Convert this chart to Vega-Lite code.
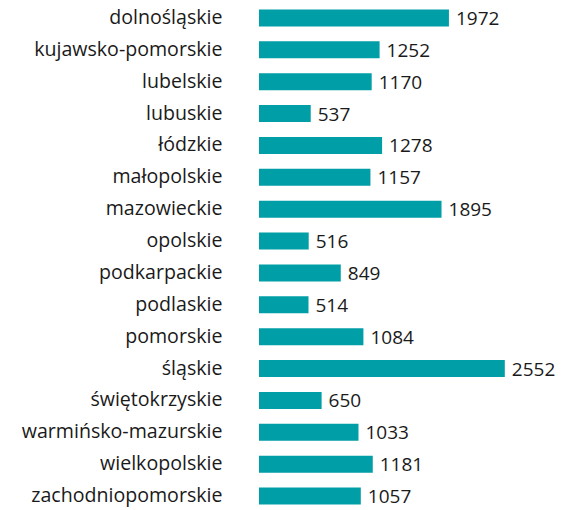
{
  "$schema": "https://vega.github.io/schema/vega-lite/v6.json",
  "autosize": {"type": "none"},
  "padding": {"left": 259, "top": 2, "right": 0, "bottom": 0},
  "width": 314,
  "height": 510,
  "background": "white",
  "config": {"view": {"stroke": null}, "font": "Open Sans"},
  "data": {
    "values": [
      {"region": "dolnośląskie", "value": 1972},
      {"region": "kujawsko-pomorskie", "value": 1252},
      {"region": "lubelskie", "value": 1170},
      {"region": "lubuskie", "value": 537},
      {"region": "łódzkie", "value": 1278},
      {"region": "małopolskie", "value": 1157},
      {"region": "mazowieckie", "value": 1895},
      {"region": "opolskie", "value": 516},
      {"region": "podkarpackie", "value": 849},
      {"region": "podlaskie", "value": 514},
      {"region": "pomorskie", "value": 1084},
      {"region": "śląskie", "value": 2552},
      {"region": "świętokrzyskie", "value": 650},
      {"region": "warmińsko-mazurskie", "value": 1033},
      {"region": "wielkopolskie", "value": 1181},
      {"region": "zachodniopomorskie", "value": 1057}
    ]
  },
  "encoding": {
    "y": {
      "field": "region",
      "type": "nominal",
      "sort": null,
      "scale": {"paddingInner": 0.467, "paddingOuter": 0.234},
      "axis": {
        "title": null,
        "domain": false,
        "ticks": false,
        "labelPadding": 37,
        "labelFontSize": 19.6,
        "labelColor": "#1a1a1a",
        "labelFont": "Open Sans",
        "labelLimit": 300
      }
    },
    "x": {
      "field": "value",
      "type": "quantitative",
      "scale": {"domain": [0, 3260], "nice": false},
      "axis": null
    }
  },
  "layer": [
    {"mark": {"type": "bar", "color": "#009ea6"}},
    {
      "mark": {"type": "text", "align": "left", "baseline": "middle", "dx": 7, "dy": 1, "fontSize": 19, "color": "#1a1a1a", "font": "Open Sans"},
      "encoding": {"text": {"field": "value", "type": "quantitative", "format": "d"}}
    }
  ]
}
